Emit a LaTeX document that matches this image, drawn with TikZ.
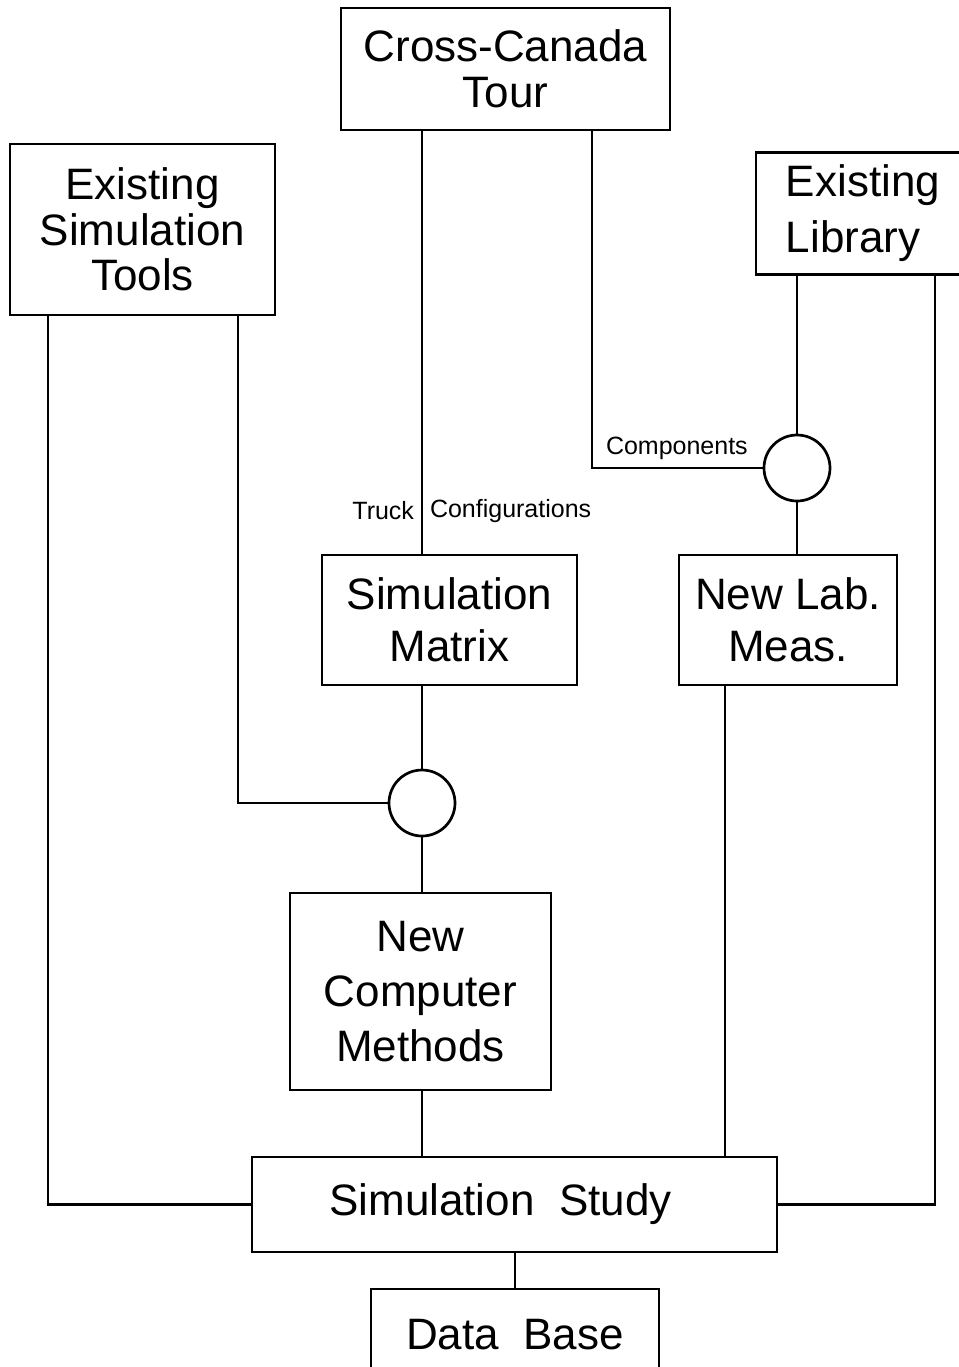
\documentclass[tikz,border=0pt]{standalone}
\usepackage{fontspec}
\setmainfont{Liberation Sans}

\begin{document}
\begin{tikzpicture}[x=0.5pt,y=-0.5pt,line width=1.35pt,
    box/.style={draw,align=center,inner sep=0pt,font=\fontsize{22}{23}\selectfont},
    joint/.style={draw,circle,minimum size=33pt,inner sep=0pt},
    lbl/.style={font=\fontsize{12.5}{14}\selectfont}]
    \useasboundingbox (0,0) rectangle (959,1367);

    % Kasten oben
    \node[box,minimum width=164.5pt,minimum height=61pt] (tour) at (505.5,69) {Cross-Canada\\Tour};
    \node[box,minimum width=132.5pt,minimum height=85.5pt,font=\fontsize{22}{22.8}\selectfont] (tools) at (142.5,229.5) {Existing\\Simulation\\Tools};
    \node[box,align=left,minimum width=117pt,minimum height=61pt,font=\fontsize{22}{28}\selectfont] (lib) at (873,213.5) {Existing\hspace*{10pt}\\Library};

    % Knoten
    \node[joint] (c1) at (797,468) {};
    \node[joint] (c2) at (422,803) {};

    % Kasten Mitte
    \node[box,minimum width=127.5pt,minimum height=65pt,font=\fontsize{22}{26}\selectfont] (matrix) at (449.5,620) {Simulation\\Matrix};
    \node[box,minimum width=109pt,minimum height=65pt,font=\fontsize{22}{26}\selectfont] (lab) at (788,620) {New Lab.\\Meas.};
    \node[box,minimum width=130.5pt,minimum height=98.5pt,font=\fontsize{22}{27.5}\selectfont] (methods) at (420.5,991.5) {New\\Computer\\Methods};

    % Kasten unten
    \node[box,minimum width=262.5pt,minimum height=47.5pt] (study) at (514.5,1204.5) {Simulation\ \ Study\hspace*{14pt}};
    \node[box,minimum width=144pt,minimum height=46pt] (base) at (515,1335) {Data\ \ Base};

    % Hilfspunkte
    \coordinate (toolsl) at (48,0);
    \coordinate (toolsr) at (238,0);
    \coordinate (tourr) at (592,0);
    \coordinate (libr) at (935,0);
    \coordinate (labl) at (725,0);
    \coordinate (bend) at (592,468);
    \coordinate (tc) at (422,511);

    % Linien
    \draw (tour.south -| c2) -- (matrix.north -| c2);
    \draw (tour.south -| tourr) -- (bend) -- (c1.west);
    \draw (lib.south -| c1) -- (c1.north);
    \draw (c1.south) -- (lab.north -| c1);
    \draw (lib.south -| libr) |- (study.east);
    \draw (tools.south -| toolsl) |- (study.west);
    \draw (tools.south -| toolsr) |- (c2.west);
    \draw (matrix.south -| c2) -- (c2.north);
    \draw (c2.south) -- (methods.north -| c2);
    \draw (methods.south -| c2) -- (study.north -| c2);
    \draw (lab.south -| labl) -- (study.north -| labl);
    \draw (study.south -| base) -- (base.north);

    % Beschriftung
    \node[lbl,left] at (tc) {Truck};
    \node[lbl,right] at (tc) {Configurations};
    \node[lbl,above right] at ([xshift=3pt]bend) {Components};
\end{tikzpicture}
\end{document}
